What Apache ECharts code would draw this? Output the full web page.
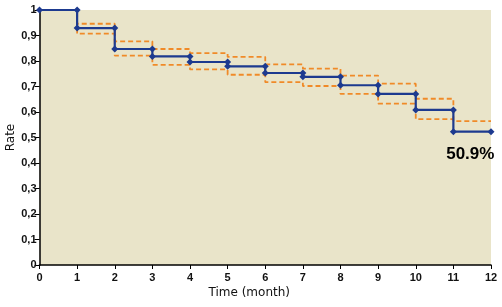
<!DOCTYPE html>
<html><head><meta charset="utf-8">
<script src="https://cdn.jsdelivr.net/npm/echarts@6/dist/echarts.min.js"></script>
<style>html,body{margin:0;padding:0;background:#fff}#c{width:502px;height:307px}</style>
</head><body><div id="c"></div>
<script>
// Interval start times (months); each value holds from times[i] to times[i+1]
var times = [0,1,2,3,4,5,6,7,8,9,10,11,12];
var survival = [1, 0.929, 0.847, 0.818, 0.796, 0.779, 0.753, 0.738, 0.705, 0.671, 0.608, 0.523];
var upperCI  = [1, 0.946, 0.877, 0.847, 0.831, 0.816, 0.787, 0.770, 0.743, 0.711, 0.652, 0.564];
var lowerCI  = [1, 0.907, 0.821, 0.785, 0.767, 0.746, 0.717, 0.702, 0.671, 0.633, 0.572, null];
var finalLabel = '50.9%';
var finalLabelPos = [11.45, 0.433];

function steps(vals){
  var out = [];
  for (var i = 0; i < vals.length; i++){
    if (vals[i] == null) break;
    out.push([times[i], vals[i]]);
    out.push([times[i+1], vals[i]]);
  }
  return out;
}
var tickFont = '"Liberation Sans Narrow","Liberation Sans",sans-serif';
var chart = echarts.init(document.getElementById('c'), null, {renderer:'canvas'});
chart.setOption({
  animation:false,
  grid:{left:39.5,right:11,top:10,bottom:42,show:true,backgroundColor:'#e9e4c9',borderWidth:0,
    containLabel:false,outerBoundsMode:'none'},
  xAxis:{type:'value',min:0,max:12,interval:1,
    name:'Time (month)',nameLocation:'middle',nameGap:22,nameMoveOverlap:false,
    nameTextStyle:{fontFamily:'"DejaVu Sans",sans-serif',fontSize:12,color:'#111',padding:[0,32,0,0]},
    axisLine:{show:true,onZero:false,lineStyle:{color:'#000',width:1.5}},
    axisTick:{show:true,length:4,lineStyle:{color:'#000'}},
    axisLabel:{margin:7,fontFamily:tickFont,fontWeight:'bold',fontSize:11,color:'#111'},
    splitLine:{show:false}},
  yAxis:{type:'value',min:0,max:1,interval:0.1,
    name:'Rate',nameLocation:'middle',nameGap:23,nameMoveOverlap:false,
    nameTextStyle:{fontFamily:'"DejaVu Sans",sans-serif',fontSize:12,color:'#111'},
    axisLine:{show:true,lineStyle:{color:'#000',width:1.5}},
    axisTick:{show:true,length:5,lineStyle:{color:'#000'}},
    axisLabel:{margin:3,fontFamily:tickFont,fontWeight:'bold',fontSize:11,color:'#111',
      formatter:function(v){return String(+v.toFixed(1)).replace('.',',');}},
    splitLine:{show:false}},
  series:[
    {type:'line',data:steps(upperCI),symbol:'none',lineStyle:{color:'#f08a28',width:1.8,type:[5,3]},z:2},
    {type:'line',data:steps(lowerCI),symbol:'none',lineStyle:{color:'#f08a28',width:1.8,type:[5,3]},z:2},
    {type:'line',data:steps(survival),symbol:'diamond',symbolSize:7,showAllSymbol:true,
      itemStyle:{color:'#1d3a8f'},lineStyle:{color:'#1d3a8f',width:2.2},z:3},
    {type:'scatter',data:[finalLabelPos],symbolSize:0,silent:true,z:4,itemStyle:{opacity:1},
      label:{show:true,position:'inside',formatter:finalLabel,fontFamily:tickFont,fontWeight:'bold',
        fontSize:17,color:'#000',opacity:1,textBorderWidth:0}}
  ]
});
</script></body></html>
